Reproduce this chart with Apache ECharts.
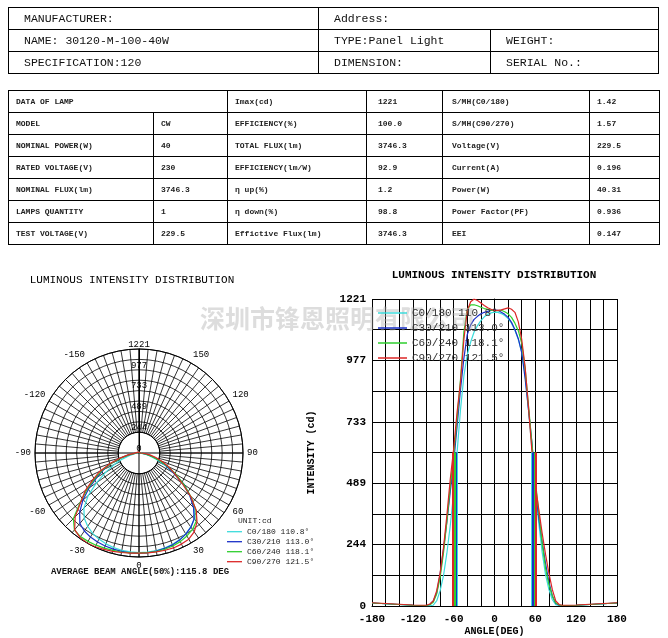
<!DOCTYPE html>
<html>
<head>
<meta charset="utf-8">
<script src="https://cdn.jsdelivr.net/npm/echarts@6/dist/echarts.min.js"></script>
<style>
html,body{margin:0;padding:0;background:#fff;}
body{width:668px;height:638px;position:relative;overflow:hidden;}
#chart{position:absolute;left:0;top:0;width:668px;height:638px;}
table{position:absolute;border-collapse:collapse;table-layout:fixed;z-index:2;}
td{border:1px solid #000;white-space:nowrap;overflow:hidden;padding:0;}
#t1{left:8px;top:7px;width:650px;}
#t1 td{height:21px;font:11.5px "Liberation Mono",monospace;color:#111;padding-left:15px;}
#t2{left:8px;top:90px;width:651px;}
#t2 td{height:21px;font:bold 8px "Liberation Mono",monospace;color:#222;padding-left:7px;}
#t2 td.c4{padding-left:11px;}
#t2 td.c5{padding-left:9px;}
</style>
</head>
<body>
<div id="chart"></div>
<table id="t1">
<colgroup><col style="width:310px"><col style="width:172px"><col style="width:168px"></colgroup>
<tr><td>MANUFACTURER:</td><td colspan="2">Address:</td></tr>
<tr><td>NAME: 30120-M-100-40W</td><td>TYPE:Panel Light</td><td>WEIGHT:</td></tr>
<tr><td>SPECIFICATION:120</td><td>DIMENSION:</td><td>SERIAL No.:</td></tr>
</table>
<table id="t2">
<colgroup><col style="width:145px"><col style="width:74px"><col style="width:139px"><col style="width:76px"><col style="width:147px"><col style="width:70px"></colgroup>
<tr><td colspan="2">DATA OF LAMP</td><td>Imax(cd)</td><td class="c4">1221</td><td class="c5">S/MH(C0/180)</td><td>1.42</td></tr>
<tr><td>MODEL</td><td>CW</td><td>EFFICIENCY(%)</td><td class="c4">100.0</td><td class="c5">S/MH(C90/270)</td><td>1.57</td></tr>
<tr><td>NOMINAL POWER(W)</td><td>40</td><td>TOTAL FLUX(lm)</td><td class="c4">3746.3</td><td class="c5">Voltage(V)</td><td>229.5</td></tr>
<tr><td>RATED VOLTAGE(V)</td><td>230</td><td>EFFICIENCY(lm/W)</td><td class="c4">92.9</td><td class="c5">Current(A)</td><td>0.196</td></tr>
<tr><td>NOMINAL FLUX(lm)</td><td>3746.3</td><td>&eta; up(%)</td><td class="c4">1.2</td><td class="c5">Power(W)</td><td>40.31</td></tr>
<tr><td>LAMPS QUANTITY</td><td>1</td><td>&eta; down(%)</td><td class="c4">98.8</td><td class="c5">Power Factor(PF)</td><td>0.936</td></tr>
<tr><td>TEST VOLTAGE(V)</td><td>229.5</td><td>Effictive Flux(lm)</td><td class="c4">3746.3</td><td class="c5">EEI</td><td>0.147</td></tr>
</table>
<script>
// ---------- data ----------
const planeNames = ['C0/180', 'C30/210', 'C60/240', 'C90/270'];
const beamAngles = [110.8, 113.0, 118.1, 121.5];
const averageBeam = '115.8';
const imax = 1221;
const radialStep = 122.1;
const intensityTickLabels = ['0', '244', '489', '733', '977', '1221'];
const angleTickLabelsCartesian = [-180, -120, -60, 0, 60, 120, 180];
const angleTickLabelsPolar = [-150, -120, -90, -60, -30, 0, 30, 60, 90, 120, 150];

const angles = [-180,-160,-140,-120,-100,-95,-90,-85,-80,-75,-70,-65,-60,-55,-50,-45,-40,-35,-30,-25,-20,-15,-10,-5,0,5,10,15,20,25,30,35,40,45,50,55,60,65,70,75,80,85,90,95,100,120,140,160,180];

const c0Values  = [12,9,6,3,1,1,3,20,60,120,210,320,450,610,780,915,1000,1050,1090,1115,1135,1150,1160,1166,1169,1168,1163,1155,1143,1125,1097,1060,1010,920,780,625,470,330,215,125,65,25,5,2,2,3,6,9,12];
const c30Values = [12,9,6,3,2,6,20,52,125,225,335,455,570,715,860,985,1080,1118,1140,1152,1162,1168,1172,1176,1177,1176,1168,1160,1148,1128,1100,1063,1008,905,780,650,470,350,255,170,95,40,10,3,2,3,6,9,12];
const c60Values = [12,9,6,3,2,5,15,48,112,210,335,475,600,745,900,1090,1180,1198,1198,1194,1188,1183,1180,1177,1175,1175,1176,1170,1162,1148,1125,1095,1045,945,795,645,500,375,250,150,85,40,12,4,2,3,6,9,12];
const c90Values = [13,10,7,4,3,8,20,60,130,230,360,505,625,770,890,1060,1175,1210,1221,1215,1205,1195,1186,1180,1176,1176,1178,1182,1186,1180,1168,1130,1060,950,790,615,480,385,290,205,130,65,20,6,3,4,7,10,13];
const planeValues = [c0Values, c30Values, c60Values, c90Values];

// ---------- styles ----------
const colors = ['#3cdcdc', '#1a30c8', '#2ecf2e', '#dc2626'];
const MONO = '"Liberation Mono", "Courier New", monospace';
const R = 104;
const polarCenter = [139, 453];

const chart = echarts.init(document.getElementById('chart'), null, {renderer: 'canvas'});

const series = [];
planeNames.forEach((name, k) => {
  const vals = planeValues[k];
  series.push({
    name: name,
    type: 'line',
    coordinateSystem: 'polar',
    polarIndex: 1,
    data: angles.map((a, i) => [vals[i], a]),
    symbol: 'none',
    smooth: false,
    animation: false,
    lineStyle: {color: colors[k], width: 1.2},
    itemStyle: {color: colors[k]}
  });
  const h = beamAngles[k] / 2;
  series.push({
    name: name,
    type: 'line',
    xAxisIndex: 0,
    yAxisIndex: 0,
    data: angles.map((a, i) => [a, vals[i]]),
    symbol: 'none',
    animation: false,
    lineStyle: {color: colors[k], width: 1.2},
    itemStyle: {color: colors[k]},
    markLine: {
      silent: true,
      symbol: 'none',
      animation: false,
      label: {show: false},
      lineStyle: {color: colors[k], width: 2, type: 'solid'},
      data: [
        [{coord: [-h, 0]}, {coord: [-h, imax / 2]}],
        [{coord: [h, 0]}, {coord: [h, imax / 2]}]
      ]
    }
  });
});

const legendFormatter = name => {
  const k = planeNames.indexOf(name);
  return name + ' ' + beamAngles[k].toFixed(1) + '°';
};
const legendItems = () => planeNames.map((n, k) => ({name: n, icon: 'rect', itemStyle: {color: colors[k], borderWidth: 0}}));

const option = {
  animation: false,
  textStyle: {fontFamily: MONO},
  graphic: [
    {type: 'text', x: 132, y: 280, z: 5, style: {text: 'LUMINOUS INTENSITY DISTRIBUTION', font: '11px ' + MONO, fill: '#000', textAlign: 'center', textVerticalAlign: 'middle', align: 'center', verticalAlign: 'middle'}},
    {type: 'text', x: 494, y: 275, z: 5, style: {text: 'LUMINOUS INTENSITY DISTRIBUTION', font: 'bold 11px ' + MONO, fill: '#000', textAlign: 'center', textVerticalAlign: 'middle', align: 'center', verticalAlign: 'middle'}},
    {type: 'text', x: 238, y: 521, z: 5, style: {text: 'UNIT:cd', font: '8px ' + MONO, fill: '#222', textAlign: 'left', textVerticalAlign: 'middle', align: 'left', verticalAlign: 'middle'}},
    {type: 'text', x: 140, y: 572, z: 5, style: {text: 'AVERAGE BEAM ANGLE(50%):' + averageBeam + ' DEG', font: 'bold 9px ' + MONO, fill: '#111', textAlign: 'center', textVerticalAlign: 'middle', align: 'center', verticalAlign: 'middle'}},
    {type: 'text', x: 200, y: 318, z: 5, style: {text: '深圳市锋恩照明有限公司', font: 'bold 25px "Noto Sans CJK SC"', fill: 'rgba(175,175,175,0.42)', textAlign: 'left', textVerticalAlign: 'middle', align: 'left', verticalAlign: 'middle'}}
  ],
  legend: [
    {
      data: legendItems(),
      orient: 'vertical', left: 227, top: 526.7, z: 10, padding: 0,
      selectedMode: false, itemWidth: 15, itemHeight: 1.3, itemGap: 0,
      formatter: legendFormatter,
      textStyle: {fontSize: 8, lineHeight: 10, color: '#222', fontFamily: MONO}
    },
    {
      data: legendItems(),
      orient: 'vertical', left: 378, top: 305.5, z: 10, padding: 0,
      selectedMode: false, itemWidth: 29, itemHeight: 1.5, itemGap: 0,
      formatter: legendFormatter,
      textStyle: {fontSize: 11, lineHeight: 15, color: '#333', fontFamily: MONO}
    }
  ],
  polar: [
    {center: polarCenter, radius: [R * (2 * radialStep) / imax, R]},
    {center: polarCenter, radius: R}
  ],
  angleAxis: [
    {
      polarIndex: 0, type: 'value', min: -180, max: 180, interval: 5,
      startAngle: 90, clockwise: false,
      axisLine: {lineStyle: {color: '#000', width: 1}},
      axisTick: {show: false},
      splitLine: {lineStyle: {color: '#000', width: 0.8}},
      axisLabel: {margin: 4, fontSize: 9, color: '#000', fontFamily: MONO,
        formatter: v => angleTickLabelsPolar.includes(v) ? String(v) : ''}
    },
    {
      polarIndex: 1, type: 'value', min: -180, max: 180, interval: 90,
      startAngle: 90, clockwise: false,
      axisLine: {show: false}, axisTick: {show: false}, axisLabel: {show: false},
      splitLine: {lineStyle: {color: '#000', width: 1}}
    }
  ],
  radiusAxis: [
    {
      polarIndex: 0, type: 'value', min: 2 * radialStep, max: imax, interval: radialStep,
      axisLine: {show: false}, axisTick: {show: false}, axisLabel: {show: false},
      splitLine: {lineStyle: {color: '#000', width: 0.8}}
    },
    {
      polarIndex: 1, type: 'value', min: 0, max: imax, interval: radialStep,
      axisLine: {lineStyle: {color: '#000', width: 1}},
      axisTick: {show: false}, splitLine: {show: false},
      axisLabel: {margin: 0, align: 'center', verticalAlign: 'bottom', fontSize: 9, color: '#000', fontFamily: MONO,
        formatter: (v, i) => (i % 2 === 0 && intensityTickLabels[i / 2] !== undefined) ? intensityTickLabels[i / 2] : ''}
    }
  ],
  grid: {left: 372, top: 299, width: 245, height: 307, containLabel: false},
  xAxis: {
    type: 'value', min: -180, max: 180, interval: 20,
    axisLine: {lineStyle: {color: '#000', width: 1}},
    axisTick: {show: false},
    splitLine: {lineStyle: {color: '#000', width: 1}},
    axisLabel: {margin: 8, fontSize: 11, fontWeight: 'bold', color: '#000', fontFamily: MONO,
      formatter: v => angleTickLabelsCartesian.includes(v) ? String(v) : ''},
    name: 'ANGLE(DEG)', nameLocation: 'middle', nameGap: 20,
    nameTextStyle: {fontSize: 10, fontWeight: 'bold', color: '#000', fontFamily: MONO}
  },
  yAxis: {
    type: 'value', min: 0, max: imax, interval: radialStep,
    axisLine: {show: true, lineStyle: {color: '#000', width: 1}},
    axisTick: {show: false},
    splitLine: {lineStyle: {color: '#000', width: 1}},
    axisLabel: {margin: 6, fontSize: 11, fontWeight: 'bold', color: '#000', fontFamily: MONO,
      formatter: (v, i) => (i % 2 === 0 && intensityTickLabels[i / 2] !== undefined) ? intensityTickLabels[i / 2] : ''},
    name: 'INTENSITY (cd)', nameLocation: 'middle', nameGap: 56, nameRotate: 90,
    nameTextStyle: {fontSize: 10, fontWeight: 'bold', color: '#000', fontFamily: MONO}
  },
  series: series
};

chart.setOption(option);
</script>
</body>
</html>
